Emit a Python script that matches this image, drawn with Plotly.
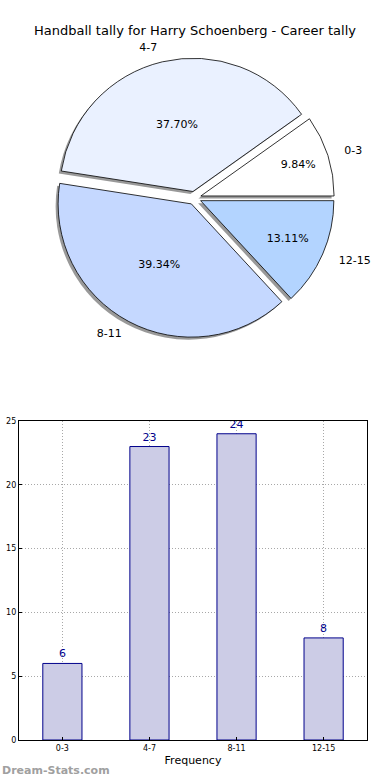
import plotly.graph_objects as go

categories = ["0-3", "4-7", "8-11", "12-15"]
counts = [6, 23, 24, 8]
pie_colors = ["#ffffff", "#eaf1ff", "#c5d8ff", "#b3d4ff"]
pulls = [0.05, 0.05, 0.05, 0.05]
y_ticks = [0, 5, 10, 15, 20, 25]

W, H = 390, 780
def px_x(a, b):
    return [a / W, b / W]
def px_y(top, bottom):
    return [1 - bottom / H, 1 - top / H]

# matplotlib-style start: first slice begins at 3 o'clock going counterclockwise
rot = 90 - 360 * counts[0] / sum(counts)

cx, cy, half = 196, 198, 141
def box(dx=0, dy=0, h=half):
    return dict(x=px_x(cx - h + dx, cx + h + dx), y=px_y(cy - h + dy, cy + h + dy))

fig = go.Figure()

# shadow pie
fig.add_trace(go.Pie(
    labels=categories, values=counts, sort=False, direction="counterclockwise",
    rotation=rot, pull=pulls, textinfo="none", hoverinfo="skip",
    marker=dict(colors=["rgba(110,110,110,0.7)"] * 4, line=dict(width=0)),
    domain=box(-2.5, 2.5), showlegend=False,
))
# main pie with percentages
fig.add_trace(go.Pie(
    labels=categories, values=counts, sort=False, direction="counterclockwise",
    rotation=rot, pull=pulls, texttemplate="%{percent:.2%}", textposition="inside",
    insidetextorientation="horizontal",
    textfont=dict(family="DejaVu Sans", size=11, color="black"),
    marker=dict(colors=pie_colors, line=dict(color="black", width=0.8)),
    domain=box(), showlegend=False,
))
# outer labels (two transparent rings to mimic matplotlib's elliptical label placement)
for tmpl, h in ((["%{label}", "", "", "%{label}"], 155),
                (["", "%{label}", "%{label}", ""], 149)):
    fig.add_trace(go.Pie(
        labels=categories, values=counts, sort=False, direction="counterclockwise",
        rotation=rot, pull=pulls, texttemplate=tmpl, textposition="outside",
        textfont=dict(family="DejaVu Sans", size=11, color="black"),
        marker=dict(colors=["rgba(0,0,0,0)"] * 4, line=dict(width=0)),
        domain=box(h=h), showlegend=False, hoverinfo="skip",
    ))

# bar chart
fig.add_trace(go.Bar(
    x=categories, y=counts, width=0.45,
    marker=dict(color="#ccccE6", line=dict(color="#00008b", width=1)),
    text=[str(c) for c in counts], textposition="outside",
    textfont=dict(family="DejaVu Sans", size=11, color="#00008b"),
    cliponaxis=False, showlegend=False,
))

fig.update_layout(
    width=W, height=H,
    margin=dict(l=0, r=0, t=0, b=0),
    paper_bgcolor="white", plot_bgcolor="white",
    font=dict(family="DejaVu Sans", color="black"),
    title=dict(text="Handball tally for Harry Schoenberg - Career tally",
               x=0.5, xanchor="center", y=1 - 30 / H, yanchor="middle",
               font=dict(size=13, color="black")),
    xaxis=dict(domain=px_x(19, 370), range=[-0.5, 3.5],
               showline=True, linecolor="black", linewidth=1, mirror=True,
               showgrid=True, gridcolor="#a8a8a8", griddash="1px,2px", gridwidth=1,
               ticks="inside", ticklen=3, tickcolor="black",
               tickfont=dict(size=8), title=dict(text="Frequency", font=dict(size=11), standoff=4),
               automargin=False),
    yaxis=dict(domain=px_y(421, 740), range=[0, 25], tickvals=y_ticks,
               showline=True, linecolor="black", linewidth=1, mirror=True,
               showgrid=True, gridcolor="#a8a8a8", griddash="1px,2px", gridwidth=1,
               ticks="inside", ticklen=3, tickcolor="black",
               tickfont=dict(size=8), zeroline=False, automargin=False),
    annotations=[dict(text="<b>Dream-Stats.com</b>", x=0, y=1 - 770 / H,
                      xref="paper", yref="paper", xanchor="left", yanchor="middle",
                      showarrow=False, font=dict(size=11, color="#a0a0a0"))],
)

fig.write_html("out.html", config={"displayModeBar": False},
               post_script="document.body.style.margin='0';")
